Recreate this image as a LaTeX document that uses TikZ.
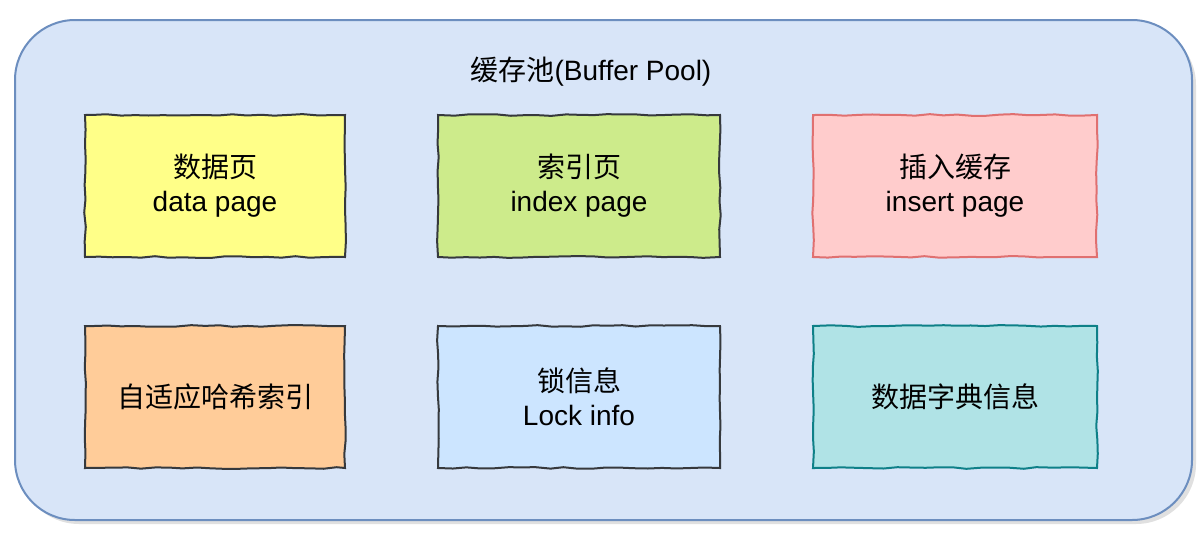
\documentclass[tikz,border=0pt]{standalone}
\usepackage{fontspec}
\setmainfont{Liberation Sans}
\newfontfamily\cjk{Noto Sans CJK SC}
\usetikzlibrary{decorations.pathmorphing}

\definecolor{poolfill}{HTML}{D8E5F8}
\definecolor{poolline}{HTML}{6C8EBF}
\definecolor{boxline}{HTML}{36393D}
\definecolor{yellowfill}{HTML}{FFFF88}
\definecolor{greenfill}{HTML}{CDEB8B}
\definecolor{redfill}{HTML}{FFCCCC}
\definecolor{redline}{HTML}{E07070}
\definecolor{orangefill}{HTML}{FFCC99}
\definecolor{bluefill}{HTML}{CCE5FF}
\definecolor{tealfill}{HTML}{B0E3E6}
\definecolor{tealline}{HTML}{0E8088}

\tikzset{
  rough/.style={decorate,decoration={random steps,segment length=7pt,amplitude=0.45pt}},
  pagebox/.style 2 args={draw=#2,fill=#1,line width=1pt,rough,
    minimum width=141pt,minimum height=71pt,align=center,
    font=\fontsize{14}{17}\selectfont}
}

\begin{document}
\begin{tikzpicture}[x=0.5pt,y=-0.5pt]

\useasboundingbox (0,0) rectangle (1200,542);

% The pool
\fill[black!12,rounded corners=30pt] (19,25) rectangle (1196,524);
\draw[fill=poolfill,draw=poolline,line width=1pt,rounded corners=30pt] (15,20) rectangle (1192,520);
\node[font=\fontsize{14}{17}\selectfont] (pool) at (591,72) {{\cjk 缓存池}(Buffer Pool)};

% The pages
\node[pagebox={yellowfill}{boxline},minimum width=130pt] (data) at (215,186) {{\cjk 数据页}\\data page};
\node[pagebox={greenfill}{boxline}] (index) at (579,186) {{\cjk 索引页}\\index page};
\node[pagebox={redfill}{redline},minimum width=142pt] (insert) at (955,186) {{\cjk 插入缓存}\\insert page};

\node[pagebox={orangefill}{boxline},minimum width=130pt] (hash) at (215,397) {\cjk 自适应哈希索引};
\node[pagebox={bluefill}{boxline}] (lock) at (579,397) {{\cjk 锁信息}\\Lock info};
\node[pagebox={tealfill}{tealline},minimum width=142pt] (dict) at (955,397) {\cjk 数据字典信息};

\end{tikzpicture}
\end{document}
